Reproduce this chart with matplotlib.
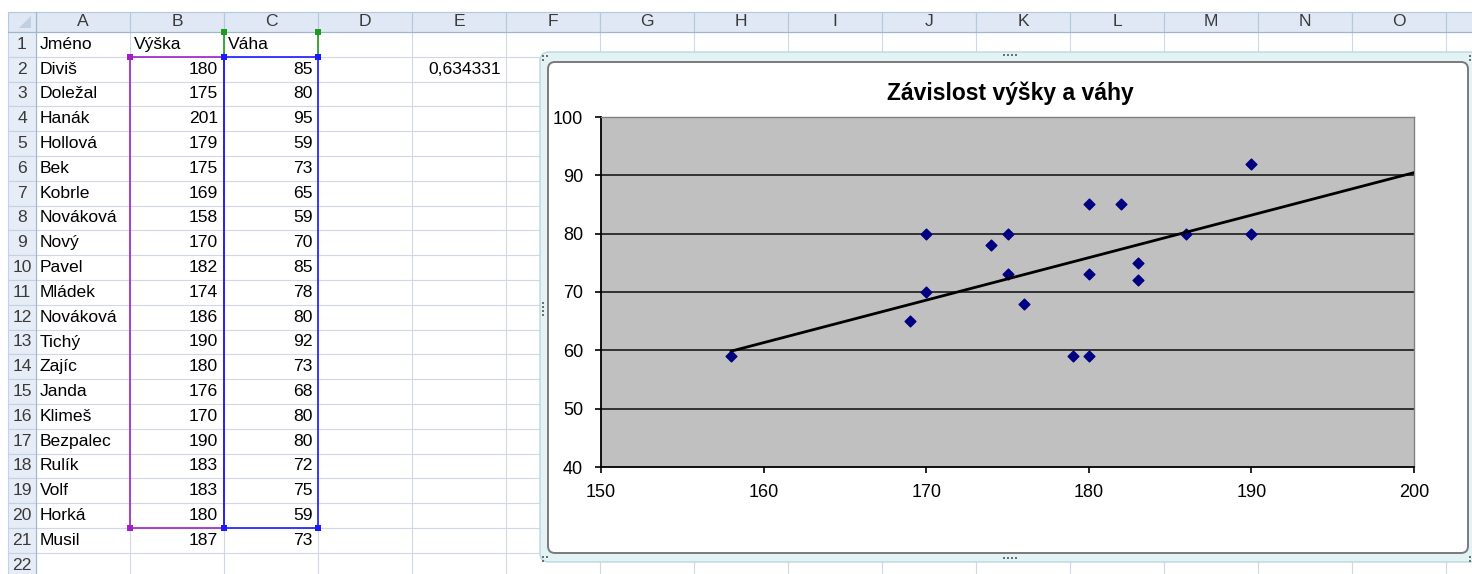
import numpy as np
import matplotlib.pyplot as plt
from matplotlib.patches import Rectangle, FancyBboxPatch, Polygon

plt.rcParams['font.family'] = ['Liberation Sans', 'DejaVu Sans']

# data z listu
jmena = ["Diviš", "Doležal", "Hanák", "Hollová", "Bek", "Kobrle", "Nováková",
         "Nový", "Pavel", "Mládek", "Nováková", "Tichý", "Zajíc", "Janda",
         "Klimeš", "Bezpalec", "Rulík", "Volf", "Horká", "Musil"]
vyska = [180, 175, 201, 179, 175, 169, 158, 170, 182, 174, 186, 190, 180, 176,
         170, 190, 183, 183, 180, 187]
vaha = [85, 80, 95, 59, 73, 65, 59, 70, 85, 78, 80, 92, 73, 68, 80, 80, 72, 75,
        59, 73]
hlavicka = ["Jméno", "Výška", "Váha"]
korelace = "0,634331"
sloupce = list("ABCDEFGHIJKLMNO")
pocet_v_grafu = 19  # graf bere radky 2-20

W, H = 1472, 574
FS = 12.6
fig = plt.figure(figsize=(W / 100, H / 100), dpi=100)
bg = fig.add_axes([0, 0, 1, 1])
bg.set_xlim(0, W)
bg.set_ylim(H, 0)
bg.axis('off')

# mrizka listu
col_x = [36 + 94 * k for k in range(len(sloupce) + 2)]
row_h = 24.8
row_y = [32 + row_h * k for k in range(23)]
grid_c = '#D0D7E5'
for x in col_x:
    bg.plot([x, x], [32, H], color=grid_c, lw=0.8, zorder=1)
for y in row_y:
    bg.plot([36, W], [y, y], color=grid_c, lw=0.8, zorder=1)

# hlavicka sloupcu
for i in range(len(col_x) - 1):
    bg.add_patch(Rectangle((col_x[i], 12), 94, 20, fc='#DFE8F4', ec='#B4C8DE',
                           lw=0.8, zorder=2))
for i, s in enumerate(sloupce):
    bg.text(col_x[i] + 47, 22, s, ha='center', va='center', fontsize=FS,
            color='#3A3A3A', zorder=3)
bg.add_patch(Rectangle((8, 12), 28, 20, fc='#DFE8F4', ec='#B4C8DE', lw=0.8, zorder=2))
bg.add_patch(Polygon([[31, 16], [31, 28], [19, 28]], closed=True, fc='#C0CFE2',
                     ec='none', zorder=3))
bg.plot([8, W], [32, 32], color='#9EB6CE', lw=0.8, zorder=3)

# cisla radku
for r in range(22):
    bg.add_patch(Rectangle((8, row_y[r]), 28, row_h, fc='#E6EDF7', ec='#C3D2E5',
                           lw=0.8, zorder=2))
    bg.text(22, row_y[r] + row_h / 2, str(r + 1), ha='center', va='center',
            fontsize=FS, color='#3A3A3A', zorder=3)
bg.plot([36, 36], [12, H], color='#9EB6CE', lw=0.8, zorder=3)

# obsah bunek
def cell_mid(r):
    return row_y[r - 1] + row_h / 2

for j, t in enumerate(hlavicka):
    bg.text(col_x[j] + 4, cell_mid(1), t, ha='left', va='center', fontsize=FS, zorder=4)
for i in range(len(jmena)):
    bg.text(col_x[0] + 4, cell_mid(i + 2), jmena[i], ha='left', va='center',
            fontsize=FS, zorder=4)
    bg.text(col_x[2] - 6, cell_mid(i + 2), str(vyska[i]), ha='right', va='center',
            fontsize=FS, zorder=4)
    bg.text(col_x[3] - 5, cell_mid(i + 2), str(vaha[i]), ha='right', va='center',
            fontsize=FS, zorder=4)
bg.text(col_x[5] - 5, cell_mid(2), korelace, ha='right', va='center', fontsize=FS, zorder=4)

# oznaceni zdrojovych oblasti
y_top, y_bot = row_y[1], row_y[20]
def ramecek(x0, x1, y0, y1, c):
    bg.add_patch(Rectangle((x0, y0), x1 - x0, y1 - y0, fill=False, ec=c, lw=1.2, zorder=5))

def ctverec(x, y, c):
    bg.add_patch(Rectangle((x - 3, y - 3), 6, 6, fc=c, ec='none', zorder=6))

ramecek(col_x[1], col_x[2], y_top, y_bot, '#A020C8')
ramecek(col_x[2], col_x[3], y_top, y_bot, '#1A1AFF')
bg.plot([col_x[2], col_x[2]], [row_y[0], y_top], color='#1E9A1E', lw=1.2, zorder=5)
bg.plot([col_x[3], col_x[3]], [row_y[0], y_top], color='#1E9A1E', lw=1.2, zorder=5)
for x in (col_x[2], col_x[3]):
    ctverec(x, row_y[0], '#1E9A1E')
ctverec(col_x[1], y_top, '#A020C8')
ctverec(col_x[1], y_bot, '#A020C8')
for x in (col_x[2], col_x[3]):
    ctverec(x, y_top, '#1A1AFF')
    ctverec(x, y_bot, '#1A1AFF')

# ramec grafu
bg.add_patch(FancyBboxPatch((540, 52), 945, 510, boxstyle='round,pad=0,rounding_size=9',
                            fc='#E3F2F5', ec='#B9D9DF', lw=1.0, zorder=7))
bg.add_patch(FancyBboxPatch((548, 62), 920, 491, boxstyle='round,pad=0,rounding_size=7',
                            fc='white', ec='#7A7A7A', lw=1.4, zorder=8))
for k in range(4):
    bg.add_patch(Rectangle((1003 + 4 * k, 54), 2, 2, fc='#6E6E6E', ec='none', zorder=9))
    bg.add_patch(Rectangle((1003 + 4 * k, 557), 2, 2, fc='#6E6E6E', ec='none', zorder=9))
    bg.add_patch(Rectangle((542, 302 + 4 * k), 2, 2, fc='#6E6E6E', ec='none', zorder=9))
for (cx, cy) in [(542, 55), (542, 556), (1469, 55), (1469, 556)]:
    for dx, dy in [(0, 0), (4, 0), (0, 4)]:
        bg.add_patch(Rectangle((cx + dx, cy + dy), 2, 2, fc='#6E6E6E', ec='none', zorder=9))
bg.text(1010, 93, "Závislost výšky a váhy", ha='center', va='center', fontsize=16.5,
        fontweight='bold', zorder=9)

# bodovy graf
px0, px1, py0, py1 = 601, 1414, 117, 467
ax = fig.add_axes([px0 / W, (H - py1) / H, (px1 - px0) / W, (py1 - py0) / H], zorder=10)
ax.set_facecolor('#C0C0C0')
x = np.array(vyska[:pocet_v_grafu])
y = np.array(vaha[:pocet_v_grafu])
ax.scatter(x, y, marker='D', s=30, color='#000080', zorder=3, clip_on=True)
k, q = np.polyfit(x, y, 1)
xt = np.array([x.min(), x.max()])
ax.plot(xt, k * xt + q, color='black', lw=2, zorder=4)

ax.set_xlim(150, 200)
ax.set_ylim(40, 100)
ax.set_xticks(range(150, 201, 10))
ax.set_yticks(range(40, 101, 10))
ax.yaxis.grid(True, color='#1A1A1A', lw=1.2)
ax.set_axisbelow(True)
gl = ax.get_ygridlines()
gl[0].set_visible(False)
gl[-1].set_visible(False)
for s in ('top', 'right'):
    ax.spines[s].set_color('#808080')
    ax.spines[s].set_linewidth(1.0)
for s in ('left', 'bottom'):
    ax.spines[s].set_color('black')
    ax.spines[s].set_linewidth(1.3)
ax.tick_params(direction='out', length=4, width=1.2, labelsize=13, color='black')
ax.tick_params(axis='y', pad=9)
ax.tick_params(axis='x', pad=8)

fig.savefig('out.png', dpi=100)
